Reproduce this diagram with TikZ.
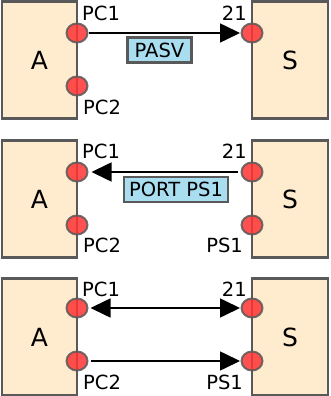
\documentclass[tikz,border=0pt]{standalone}
\usepackage{fontspec}
\setmainfont{DejaVu Sans}
\usetikzlibrary{arrows.meta,shapes.geometric}
\definecolor{boxfill}{HTML}{FFEBCD}
\definecolor{boxline}{HTML}{595959}
\definecolor{portred}{HTML}{FF3333}
\definecolor{tagfill}{HTML}{A9DDF0}
\tikzset{
  x=1pt,y=1pt,
  hostbox/.style={draw=boxline,line width=2.5pt,fill=boxfill,minimum width=75pt,minimum height=117pt,inner sep=0pt,font=\fontsize{25}{28}\selectfont},
  port/.style={ellipse,draw=boxline,draw opacity=0.85,line width=2pt,fill=portred,fill opacity=0.85,minimum width=21pt,minimum height=19pt,inner sep=0pt,outer sep=0pt},
  lbl/.style={inner sep=0pt,font=\fontsize{19.5}{22}\selectfont},
  tag/.style={draw=boxline,line width=2.5pt,fill=tagfill,inner sep=0pt,font=\fontsize{19.5}{22}\selectfont},
  arr/.style={line width=1.6pt,-{Triangle[length=20pt,width=19pt]}},
  darr/.style={line width=1.6pt,{Triangle[length=20pt,width=19pt]}-{Triangle[length=20pt,width=19pt]}},
}
\begin{document}
\begin{tikzpicture}
\useasboundingbox (0,0) rectangle (330,396);
% Row 1
\node[hostbox] (A1) at (39.5,336) {A};
\node[hostbox,minimum width=76pt] (S1) at (290,336) {S};
\node[port] (a1p1) at (77,363) {};
\node[port] (a1p2) at (77,310) {};
\node[port] (s1p1) at (252,363) {};
\node[lbl,anchor=west] (l1a) at (82,383) {PC1};
\node[lbl,anchor=west] (l1b) at (83,289) {PC2};
\node[lbl,anchor=east] (l1c) at (247,383) {21};
\draw[arr,shorten <=1pt,shorten >=1.5pt] (a1p1) -- (s1p1);
\node[tag,minimum width=64pt,minimum height=25pt] (t1) at (159.5,346) {PASV};
% Row 2
\node[hostbox] (A2) at (39.5,197) {A};
\node[hostbox,minimum width=76pt] (S2) at (290,197) {S};
\node[port] (a2p1) at (77,224) {};
\node[port] (a2p2) at (77,171) {};
\node[port] (s2p1) at (252,224) {};
\node[port] (s2p2) at (252,171) {};
\node[lbl,anchor=west] (l2a) at (82,245) {PC1};
\node[lbl,anchor=west] (l2b) at (83,151) {PC2};
\node[lbl,anchor=east] (l2c) at (247,245) {21};
\node[lbl,anchor=east] (l2d) at (243,151) {PS1};
\draw[arr,shorten <=3.5pt,shorten >=4pt] (s2p1) -- (a2p1);
\node[tag,minimum width=104pt,minimum height=25pt] (t2) at (176,206.5) {PORT PS1};
% Row 3
\node[hostbox] (A3) at (39.5,59) {A};
\node[hostbox,minimum width=76pt] (S3) at (290,59) {S};
\node[port] (a3p1) at (77,88) {};
\node[port] (a3p2) at (77,35) {};
\node[port] (s3p1) at (252,88) {};
\node[port] (s3p2) at (252,35) {};
\node[lbl,anchor=west] (l3a) at (82,107) {PC1};
\node[lbl,anchor=west] (l3b) at (83,14) {PC2};
\node[lbl,anchor=east] (l3c) at (247,107) {21};
\node[lbl,anchor=east] (l3d) at (243,14) {PS1};
\draw[darr,shorten <=3pt,shorten >=1.5pt] (a3p1) -- (s3p1);
\draw[arr,shorten <=3.5pt,shorten >=1.5pt] (a3p2) -- (s3p2);
\end{tikzpicture}
\end{document}
